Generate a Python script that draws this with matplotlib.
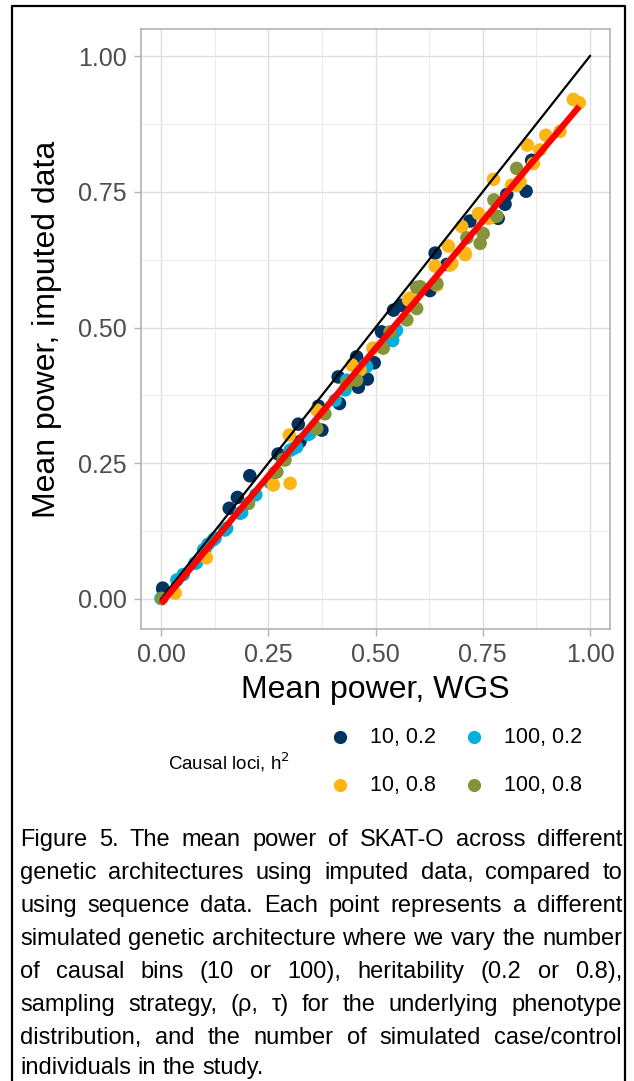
import numpy as np
import matplotlib
matplotlib.use("Agg")
import matplotlib.pyplot as plt
from matplotlib.lines import Line2D

plt.rcParams['font.family'] = ['Liberation Sans', 'DejaVu Sans']

# ---- data: (mean power WGS, mean power imputed) ----
navy_x = [0.004, 0.005, 0.159, 0.178, 0.207, 0.273, 0.320, 0.324, 0.375, 0.367,
          0.416, 0.413, 0.456, 0.481, 0.460, 0.497, 0.514, 0.542, 0.561, 0.627,
          0.639, 0.666, 0.720, 0.786, 0.802, 0.806, 0.851, 0.864]
navy_y = [0.020, 0.017, 0.167, 0.187, 0.227, 0.267, 0.322, 0.290, 0.311, 0.355,
          0.360, 0.409, 0.446, 0.405, 0.390, 0.435, 0.492, 0.532, 0.541, 0.568,
          0.637, 0.616, 0.696, 0.701, 0.727, 0.745, 0.751, 0.808]

cyan_x = [0.000, 0.037, 0.052, 0.079, 0.083, 0.099, 0.103, 0.110, 0.122, 0.126,
          0.149, 0.153, 0.184, 0.188, 0.221, 0.254, 0.301, 0.308, 0.316, 0.343,
          0.347, 0.359, 0.406, 0.429, 0.433, 0.476, 0.479, 0.540, 0.545, 0.549]
cyan_y = [0.001, 0.035, 0.045, 0.066, 0.067, 0.090, 0.093, 0.101, 0.109, 0.112,
          0.127, 0.130, 0.158, 0.159, 0.192, 0.215, 0.274, 0.277, 0.280, 0.303,
          0.305, 0.317, 0.366, 0.385, 0.403, 0.431, 0.428, 0.476, 0.492, 0.495]

gold_x = [0.033, 0.106, 0.262, 0.301, 0.299, 0.363, 0.445, 0.464, 0.494, 0.577,
          0.580, 0.639, 0.643, 0.670, 0.674, 0.678, 0.701, 0.709, 0.709, 0.740,
          0.763, 0.771, 0.775, 0.817, 0.829, 0.837, 0.854, 0.868, 0.883, 0.897,
          0.930, 0.961, 0.975]
gold_y = [0.011, 0.076, 0.210, 0.213, 0.302, 0.348, 0.431, 0.422, 0.462, 0.551,
          0.554, 0.613, 0.578, 0.650, 0.615, 0.618, 0.686, 0.637, 0.634, 0.710,
          0.701, 0.703, 0.773, 0.762, 0.762, 0.769, 0.836, 0.802, 0.827, 0.854,
          0.861, 0.920, 0.914]

olive_x = [0.002, 0.204, 0.266, 0.270, 0.285, 0.289, 0.363, 0.382, 0.433, 0.456,
           0.518, 0.534, 0.573, 0.596, 0.596, 0.604, 0.639, 0.643, 0.713, 0.744,
           0.751, 0.776, 0.783, 0.829]
olive_y = [0.001, 0.176, 0.233, 0.234, 0.257, 0.256, 0.314, 0.341, 0.397, 0.403,
           0.462, 0.492, 0.514, 0.535, 0.574, 0.575, 0.580, 0.581, 0.665, 0.655,
           0.673, 0.735, 0.705, 0.793]

groups = ["10, 0.2", "100, 0.2", "10, 0.8", "100, 0.8"]
colors = ["#003262", "#00B0DA", "#FDB515", "#859438"]
series = [(navy_x, navy_y), (cyan_x, cyan_y), (gold_x, gold_y), (olive_x, olive_y)]

ticks = [0.0, 0.25, 0.5, 0.75, 1.0]
tick_labels = ["0.00", "0.25", "0.50", "0.75", "1.00"]

caption_lines = [
    "Figure 5. The mean power of SKAT-O across different",
    "genetic architectures using imputed data, compared to",
    "using sequence data. Each point represents a different",
    "simulated genetic architecture where we vary the number",
    "of causal bins (10 or 100), heritability (0.2 or 0.8),",
    "sampling strategy, (\u03c1, \u03c4) for the underlying phenotype",
    "distribution, and the number of simulated case/control",
    "individuals in the study.",
]

W, H = 634, 1081
fig = plt.figure(figsize=(W / 100, H / 100), dpi=100)

def fx(px):
    return px / W

def fy(py):
    return 1 - py / H

# outer frame (open at the bottom)
fig.add_artist(Line2D([fx(12), fx(12), fx(625), fx(625)],
                      [fy(H + 5), fy(6), fy(6), fy(H + 5)],
                      transform=fig.transFigure, color="black", lw=1.6))

ax = fig.add_axes([fx(141), fy(629), fx(610) - fx(141), fy(29) - fy(629)])
ax.set_xlim(-20 / 429, 1 + 20 / 429)
ax.set_ylim(-30 / 543, 1 + 27 / 543)

ax.set_xticks(ticks)
ax.set_xticklabels(tick_labels)
ax.set_yticks(ticks)
ax.set_yticklabels(tick_labels)
ax.set_xticks([0.125, 0.375, 0.625, 0.875], minor=True)
ax.set_yticks([0.125, 0.375, 0.625, 0.875], minor=True)
ax.grid(which="major", color="#DEDEDE", lw=1.0)
ax.grid(which="minor", color="#EBEBEB", lw=0.7)
ax.set_axisbelow(True)
ax.tick_params(which="major", length=5, width=1.0, color="#B3B3B3",
               labelcolor="#4D4D4D", labelsize=18, pad=5)
ax.tick_params(which="minor", length=0)
for s in ax.spines.values():
    s.set_color("#B3B3B3")
    s.set_linewidth(1.2)

for (xs, ys), c, g in zip(series, colors, groups):
    ax.scatter(xs, ys, s=95, color=c, edgecolors="none", label=g, zorder=3)

# identity line
ax.plot([0, 1], [0, 1], color="black", lw=1.6, zorder=4)

# linear fit through all points
all_x = np.concatenate([np.array(s[0]) for s in series])
all_y = np.concatenate([np.array(s[1]) for s in series])
b, a = np.polyfit(all_x, all_y, 1)
xf = np.array([all_x.min(), all_x.max()])
ax.plot(xf, a + b * xf, color="#FF0000", lw=4.5, solid_capstyle="butt", zorder=5)

fig.text(fx(375), fy(690), "Mean power, WGS", fontsize=23, ha="center", va="center")
fig.text(fx(47), fy(329), "Mean power, imputed data", fontsize=23, ha="center",
         va="center", rotation=90)

# legend
fig.text(fx(168), fy(762), "Causal loci, h$^2$", fontsize=13.5, ha="left", va="center")
leg_pos = [(340, 737), (474, 737), (340, 785), (474, 785)]
for (lx, ly), c, g in zip(leg_pos, colors, groups):
    fig.add_artist(Line2D([fx(lx)], [fy(ly)], marker="o", ms=9.5, color=c,
                          mec="none", transform=fig.transFigure))
    fig.text(fx(lx + 30), fy(ly), g, fontsize=15.5, ha="left", va="center")

# justified caption
renderer = fig.canvas.get_renderer()
left, right = 20, 622
cap_y = [840, 873, 906, 939, 972, 1005, 1038, 1068]
cap_size = 17
probe1 = fig.text(0, 0, "a a", fontsize=cap_size)
probe2 = fig.text(0, 0, "aa", fontsize=cap_size)
space_w = probe1.get_window_extent(renderer).width - probe2.get_window_extent(renderer).width
probe1.remove()
probe2.remove()
for i, (line, ly) in enumerate(zip(caption_lines, cap_y)):
    words = line.split(" ")
    texts = [fig.text(0, fy(ly), w, fontsize=cap_size, ha="left", va="center")
             for w in words]
    widths = [t.get_window_extent(renderer).width for t in texts]
    if i == len(caption_lines) - 1:
        gap = space_w
    else:
        gap = (right - left - sum(widths)) / (len(words) - 1)
    x = left
    for t, w in zip(texts, widths):
        t.set_x(fx(x))
        x += w + gap

fig.savefig("out.png", dpi=100)
